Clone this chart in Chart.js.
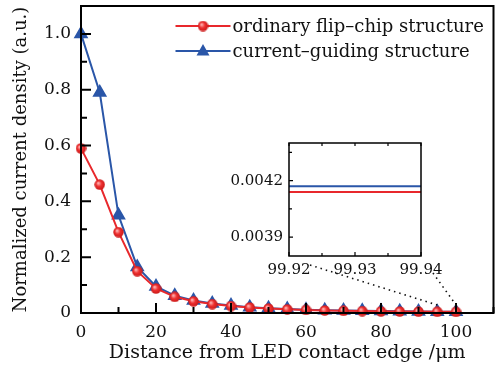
<!DOCTYPE html>
<html>
<head>
<meta charset="utf-8">
<script src="https://cdn.jsdelivr.net/npm/chart.js@4"></script>
<style>
  body { margin: 0; background: #fff; }
  #wrap { position: relative; width: 503px; height: 367px; }
  #main { position: absolute; left: 0; top: 0; }
  #inset { position: absolute; left: 200px; top: 130px; }
</style>
</head>
<body>
<div id="wrap">
  <canvas id="main" width="503" height="367"></canvas>
  <canvas id="inset" width="246" height="150"></canvas>
</div>
<script>
// distance from contact edge (um)
const distance = [0, 5, 10, 15, 20, 25, 30, 35, 40, 45, 50, 55, 60, 65, 70, 75, 80, 85, 90, 95, 100];
const ordinary = [0.59, 0.46, 0.29, 0.15, 0.088, 0.058, 0.042, 0.032, 0.025, 0.02, 0.016, 0.013, 0.011, 0.009, 0.008, 0.007, 0.006, 0.0055, 0.005, 0.0045, 0.0042];
const guiding = [1.0, 0.79, 0.35, 0.165, 0.095, 0.062, 0.045, 0.034, 0.027, 0.021, 0.017, 0.014, 0.012, 0.01, 0.009, 0.008, 0.007, 0.006, 0.0053, 0.0047, 0.0042];
const seriesNames = ['ordinary flip\u2013chip structure', 'current\u2013guiding structure'];

// inset (zoom near 99.93 um)
const insetX = [99.92, 99.94];
const insetOrdinary = [0.00414, 0.00414];
const insetGuiding = [0.00417, 0.00417];
const insetXTicks = [99.92, 99.925, 99.93, 99.935, 99.94];
const insetXLabels = ['99.92', '', '99.93', '', '99.94'];
const insetYTicks = [0.0039, 0.00405, 0.0042, 0.00435];
const insetYLabels = ['0.0039', '', '0.0042', ''];

const RED = '#e8282c';
const BLUE = '#2a56a8';
const FONT = 'DejaVu Serif';

// little shaded ball for the red markers
const ball = document.createElement('canvas');
ball.width = 11; ball.height = 11;
(function () {
  const c = ball.getContext('2d');
  const g = c.createRadialGradient(4, 4, 0.5, 5.5, 5.5, 5.5);
  g.addColorStop(0, '#ffb0b0');
  g.addColorStop(0.45, '#ee3030');
  g.addColorStop(1, '#c81818');
  c.fillStyle = g;
  c.beginPath(); c.arc(5.5, 5.5, 5.2, 0, Math.PI * 2); c.fill();
})();

function toPts(xs, ys) { return xs.map((x, i) => ({x: x, y: ys[i]})); }

// drop the label overhang padding so the plot box sits where I put it
function noPadX(h) { return s => { s.height = h; s.paddingLeft = 0; s.paddingRight = 0; }; }
function noPadY(w) { return s => { s.width = w; s.paddingTop = 0; s.paddingBottom = 0; }; }

// box + inward ticks
const frame = {
  id: 'frame',
  afterDatasetsDraw(chart, args, o) {
    const {ctx, chartArea: a, scales: {x, y}} = chart;
    ctx.save();
    ctx.strokeStyle = '#000';
    ctx.lineWidth = o.lw;
    ctx.beginPath();
    x.ticks.forEach(t => {
      const px = x.getPixelForValue(t.value);
      const len = t.label !== '' ? o.major : o.minor;
      ctx.moveTo(px, a.bottom); ctx.lineTo(px, a.bottom - len);
      if (o.mirror) { ctx.moveTo(px, a.top); ctx.lineTo(px, a.top + o.minor); }
    });
    y.ticks.forEach(t => {
      const py = y.getPixelForValue(t.value);
      const len = t.label !== '' ? o.major : o.minor;
      ctx.moveTo(a.left, py); ctx.lineTo(a.left + len, py);
    });
    ctx.stroke();
    ctx.lineWidth = o.box;
    ctx.strokeRect(a.left, a.top, a.right - a.left, a.bottom - a.top);
    ctx.restore();
  }
};

// legend inside the plot + dotted guide lines to the inset
const extras = {
  id: 'extras',
  afterDraw(chart) {
    const {ctx, chartArea: a, scales: {x, y}} = chart;
    ctx.save();
    chart.data.datasets.forEach((ds, i) => {
      const ly = a.top + 20 + i * 25;
      const lx = a.right - 318;
      ctx.strokeStyle = ds.borderColor; ctx.lineWidth = 2;
      ctx.beginPath(); ctx.moveTo(lx, ly); ctx.lineTo(lx + 55, ly); ctx.stroke();
      if (i === 0) {
        ctx.drawImage(ball, lx + 27.5 - 5.5, ly - 5.5);
      } else {
        ctx.fillStyle = ds.borderColor;
        ctx.beginPath();
        ctx.moveTo(lx + 27.5, ly - 7); ctx.lineTo(lx + 34, ly + 4.5); ctx.lineTo(lx + 21, ly + 4.5);
        ctx.closePath(); ctx.fill();
      }
      ctx.fillStyle = '#111';
      ctx.font = '18px "' + FONT + '"';
      ctx.textBaseline = 'middle';
      ctx.fillText(ds.label, lx + 57, ly + 1);
    });
    ctx.strokeStyle = '#111';
    ctx.lineWidth = 1.6;
    ctx.setLineDash([1.5, 4]);
    const yEnd = y.getPixelForValue(0) - 8;
    ctx.beginPath();
    ctx.moveTo(310, 265); ctx.lineTo(x.getPixelForValue(95), yEnd);
    ctx.moveTo(433, 273); ctx.lineTo(x.getPixelForValue(100), yEnd);
    ctx.stroke();
    ctx.restore();
  }
};

Chart.defaults.font.family = FONT;
Chart.defaults.color = '#111';

new Chart(document.getElementById('main'), {
  type: 'line',
  data: {
    datasets: [{
      label: seriesNames[0],
      data: toPts(distance, ordinary),
      borderColor: RED,
      borderWidth: 2,
      pointStyle: ball,
      clip: false
    }, {
      label: seriesNames[1],
      data: toPts(distance, guiding),
      borderColor: BLUE,
      backgroundColor: BLUE,
      borderWidth: 2,
      pointStyle: 'triangle',
      pointRadius: 6.5,
      pointBackgroundColor: BLUE,
      pointBorderColor: BLUE,
      clip: false
    }]
  },
  options: {
    responsive: false,
    animation: false,
    layout: {autoPadding: false, padding: {top: 6, right: 9.5, left: 0, bottom: 0}},
    plugins: {
      legend: {display: false},
      tooltip: {enabled: false},
      frame: {lw: 2, box: 2, major: 10, minor: 6, mirror: false}
    },
    scales: {
      x: {
        type: 'linear', min: 0, max: 110,
        grid: {display: false, drawTicks: false}, border: {display: false},
        ticks: {
          stepSize: 10, padding: 9, maxRotation: 0,
          font: {size: 17},
          callback: v => (v % 20 === 0 && v <= 100) ? String(v) : ''
        },
        title: {display: true, text: 'Distance from LED contact edge /\u03bcm', font: {size: 19}, padding: {bottom: 3}},
        afterFit: noPadX(54)
      },
      y: {
        min: 0, max: 1.1,
        grid: {display: false, drawTicks: false}, border: {display: false},
        ticks: {
          stepSize: 0.1, padding: 10,
          font: {size: 17},
          callback: v => {
            const k = Math.round(v * 10);
            if (k % 2 !== 0) return '';
            return k === 0 ? '0' : (k / 10).toFixed(1);
          }
        },
        title: {display: true, text: 'Normalized current density (a.u.)', font: {size: 18}, padding: {top: 11}},
        afterFit: noPadY(81)
      }
    }
  },
  plugins: [frame, extras]
});

new Chart(document.getElementById('inset'), {
  type: 'line',
  data: {
    datasets: [{
      data: toPts(insetX, insetOrdinary),
      borderColor: RED, borderWidth: 2, pointRadius: 0
    }, {
      data: toPts(insetX, insetGuiding),
      borderColor: BLUE, borderWidth: 2, pointRadius: 0
    }]
  },
  options: {
    responsive: false,
    animation: false,
    layout: {autoPadding: false, padding: {top: 13, right: 25, left: 0, bottom: 0}},
    plugins: {
      legend: {display: false},
      tooltip: {enabled: false},
      frame: {lw: 1.2, box: 1.5, major: 4, minor: 3, mirror: true}
    },
    scales: {
      x: {
        type: 'linear', min: 99.92, max: 99.94,
        grid: {display: false, drawTicks: false}, border: {display: false},
        afterBuildTicks: s => { s.ticks = insetXTicks.map(v => ({value: v})); },
        ticks: {padding: 5, maxRotation: 0, autoSkip: false, font: {size: 15},
          callback: (v, i) => insetXLabels[i]},
        afterFit: noPadX(24)
      },
      y: {
        min: 0.0038, max: 0.0044,
        grid: {display: false, drawTicks: false}, border: {display: false},
        afterBuildTicks: s => { s.ticks = insetYTicks.map(v => ({value: v})); },
        ticks: {padding: 6, autoSkip: false, font: {size: 15},
          callback: (v, i) => insetYLabels[i]},
        afterFit: noPadY(89)
      }
    }
  },
  plugins: [frame]
});
</script>
</body>
</html>
